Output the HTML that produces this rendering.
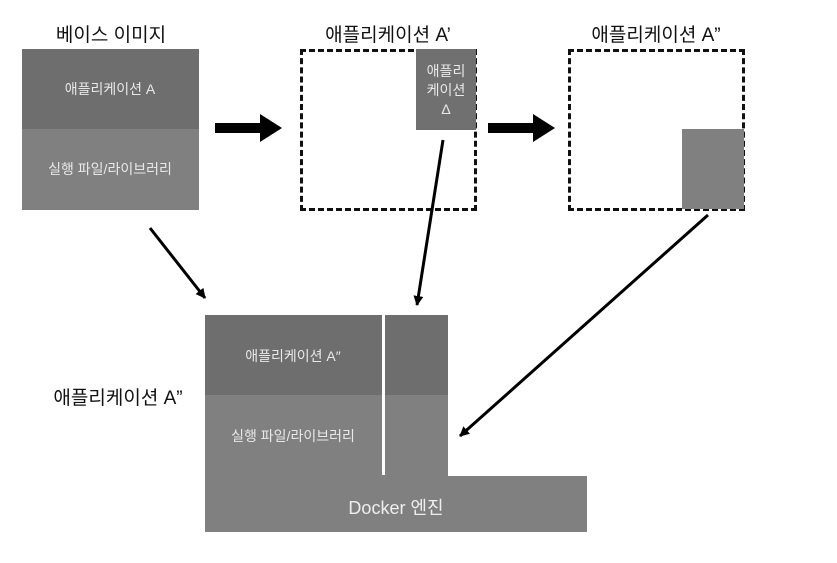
<!DOCTYPE html>
<html><head><meta charset="utf-8"><style>
body{margin:0;width:837px;height:563px;background:#fff;position:relative;overflow:hidden;font-family:"Liberation Sans","Noto Sans CJK KR",sans-serif}
.a{position:absolute;box-sizing:border-box}
.t{position:absolute;white-space:nowrap;transform:translateX(-50%)}
.w{color:#e8e8e8;font-size:14px}
.h{color:#111;font-size:19px}
</style></head><body>
<div class="t h" style="left:111px;top:20px">베이스 이미지</div>
<div class="t h" style="left:388px;top:20px">애플리케이션 A’</div>
<div class="t h" style="left:656px;top:20px">애플리케이션 A”</div>
<div class="t h" style="left:118px;top:383px">애플리케이션 A”</div>

<div class="a" style="left:22px;top:49px;width:177px;height:80px;background:#6e6e6e"></div>
<div class="a" style="left:22px;top:129px;width:177px;height:81px;background:#808080"></div>
<div class="t w" style="left:110px;top:79px">애플리케이션 A</div>
<div class="t w" style="left:110px;top:159px">실행 파일/라이브러리</div>

<div class="a" style="left:300px;top:49px;width:177px;height:162px;border:3px dashed #111"></div>
<div class="a" style="left:416px;top:49px;width:60px;height:81px;background:#707070"></div>
<div class="t w" style="left:446px;top:62px;text-align:center;line-height:19px">애플리<br>케이션<br>Δ</div>

<div class="a" style="left:568px;top:49px;width:177px;height:162px;border:3px dashed #111"></div>
<div class="a" style="left:682px;top:129px;width:62px;height:80px;background:#808080"></div>

<div class="a" style="left:205px;top:315px;width:243px;height:80px;background:#6e6e6e"></div>
<div class="a" style="left:205px;top:395px;width:243px;height:82px;background:#808080"></div>
<div class="a" style="left:382px;top:315px;width:3px;height:160px;background:#fff"></div>
<div class="a" style="left:205px;top:476px;width:382px;height:56px;background:#808080"></div>
<div class="t w" style="left:293px;top:346px">애플리케이션 A″</div>
<div class="t w" style="left:293px;top:426px">실행 파일/라이브러리</div>
<div class="t" style="left:396px;top:494px;color:#eee;font-size:18px">Docker 엔진</div>

<svg class="a" style="left:0;top:0" width="837" height="563">
<defs><marker id="m" markerWidth="10" markerHeight="10" refX="9" refY="5" orient="auto" markerUnits="userSpaceOnUse"><path d="M0,0L10,5L0,10z" fill="#000"/></marker></defs>
<path d="M215,123h45v-9l22,14l-22,14v-9h-45z" fill="#000"/>
<path d="M488,123h45v-9l22,14l-22,14v-9h-45z" fill="#000"/>
<g stroke="#000" stroke-width="3" marker-end="url(#m)">
<line x1="150" y1="228" x2="205" y2="298"/>
<line x1="443" y1="140" x2="417" y2="305"/>
<line x1="708" y1="215" x2="460" y2="436"/>
</g>
</svg>
</body></html>
